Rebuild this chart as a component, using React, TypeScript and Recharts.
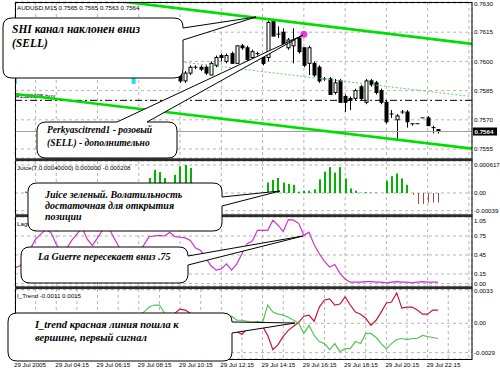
import React from 'react';
import {
  ComposedChart, Bar, Line, Scatter, XAxis, YAxis, CartesianGrid, ReferenceLine,
} from 'recharts';

const SMALL_FONT = '"Liberation Sans", Arial, sans-serif';
const NOTE_FONT = '"Liberation Serif", "Times New Roman", serif';

// x = index of the M15 bar, 0 = first date label on the time axis
const timeLabels = [
  '29 Jul 2005', '29 Jul 04:15', '29 Jul 06:15', '29 Jul 08:15', '29 Jul 10:15', '29 Jul 12:15',
  '29 Jul 14:15', '29 Jul 16:15', '29 Jul 18:15', '29 Jul 20:15', '29 Jul 22:15',
];
const gridTicks = Array.from({ length: 23 }, (_, k) => k * 4);
const X_DOMAIN: [number, number] = [0, 88.6];

// AUDUSD M15 candles, first one at index 32
const candleStart = 32;
const opens = [
  0.7596, 0.7590, 0.7594, 0.7597, 0.7597, 0.7597, 0.7593, 0.7598, 0.7603, 0.7600,
  0.7604, 0.7599, 0.7608, 0.7607, 0.7602, 0.7604, 0.7602, 0.7602, 0.7621, 0.7614,
  0.7615, 0.7607, 0.7608, 0.7612, 0.7607, 0.7599, 0.7599, 0.7597, 0.7591, 0.7591,
  0.7584, 0.7590, 0.7582, 0.7581, 0.7581, 0.7587, 0.7579, 0.7590, 0.7589, 0.7585,
  0.7579, 0.7573, 0.7570, 0.7574, 0.7574, 0.7568, 0.7568, 0.7571, 0.7571, 0.7566,
  0.7565,
];
const highs = [
  0.7597, 0.7595, 0.7598, 0.7598, 0.7598, 0.7598, 0.7600, 0.7603, 0.7604, 0.7604,
  0.7605, 0.7608, 0.7609, 0.7608, 0.7606, 0.7605, 0.7603, 0.7621, 0.7622, 0.7618,
  0.7617, 0.7612, 0.7617, 0.7613, 0.7607, 0.7608, 0.7600, 0.7598, 0.7592, 0.7592,
  0.7591, 0.7591, 0.7583, 0.7582, 0.7586, 0.7588, 0.7591, 0.7591, 0.7590, 0.7586,
  0.7580, 0.7575, 0.7573, 0.7575, 0.7575, 0.7568, 0.7568, 0.7571, 0.7572, 0.7567,
  0.7565,
];
const lows = [
  0.7589, 0.7589, 0.7593, 0.7596, 0.7595, 0.7593, 0.7593, 0.7597, 0.7600, 0.7599,
  0.7599, 0.7599, 0.7606, 0.7599, 0.7601, 0.7603, 0.7598, 0.7600, 0.7613, 0.7612,
  0.7608, 0.7606, 0.7599, 0.7604, 0.7597, 0.7593, 0.7592, 0.7589, 0.7590, 0.7583,
  0.7583, 0.7579, 0.7574, 0.7575, 0.7580, 0.7580, 0.7578, 0.7587, 0.7583, 0.7578,
  0.7568, 0.7571, 0.7560, 0.7573, 0.7566, 0.7567, 0.7568, 0.7571, 0.7567, 0.7563,
  0.7563,
];
const closes = [
  0.7590, 0.7594, 0.7597, 0.7597, 0.7596, 0.7594, 0.7599, 0.7602, 0.7602, 0.7603,
  0.7599, 0.7608, 0.7607, 0.7601, 0.7605, 0.7604, 0.7599, 0.7620, 0.7613, 0.7614,
  0.7609, 0.7611, 0.7611, 0.7605, 0.7598, 0.7607, 0.7593, 0.7590, 0.7591, 0.7583,
  0.7589, 0.7579, 0.7579, 0.7580, 0.7585, 0.7581, 0.7590, 0.7588, 0.7584, 0.7579,
  0.7569, 0.7573, 0.7572, 0.7574, 0.7569, 0.7568, 0.7568, 0.7571, 0.7567, 0.7566,
  0.7564,
];

// SHI channel end points
const channelUpper = [{ i: 21, v: 0.76307 }, { i: 89, v: 0.76089 }];
const channelLower = [{ i: 0, v: 0.75833 }, { i: 89, v: 0.75551 }];
const channelMid = [{ i: 33, v: 0.75995 }, { i: 89, v: 0.75818 }];
const perkyDots = [{ i: 56, v: 0.7614 }];
const cyanMarks = [{ i: 0, v: 0.7590 }, { i: 23, v: 0.7590 }];
const bidPrice = 0.7564;
const orderPrice = 0.7580;
const priceTicks = [0.7555, 0.7570, 0.7585, 0.7600, 0.7615, 0.7630];

// Juice histogram, from index 0
const juice = [
  0, 0, 0.00003, 0, 0, 0, 0, 0, 0, 0,
  0, 0, 0, 0, 0, 0, 0, 0, 0, 0,
  0, 0, 0, 0, 0, 0, 0.00033, 0.00051, 0.00046, 0.00033,
  0.0001, 0.0004, 0.00059, 0.000617, 0.00055, 0.0002, 0, 0, 0, 0,
  0, 0, 0, 0, 0, 0, 0, 0, 0, 0.00023,
  0.00029, 0.00033, 0.00023, 0.0002, 0.00018, 0.00003, 0.00005, 0.00005, 0.00008, 0.0003,
  0.00047, 0.00057, 0.00045, 0.00057, 0.00032, 0.0001, 0.00005, 0.00001, 0.00002, 0.00001,
  0.00001, 0, 0.00027, 0.00037, 0.00043, 0.00032, 0.00018, -0.00004, -0.00024, -0.00024,
  -0.00021, -0.00021, -0.00021,
];
const juiceTicks = [-0.00039, 0, 0.000617];

// Laguerre, from index 0
const laguerre = [
  0.245, 0.28, 0.40, 0.55, 0.70, 0.78, 0.85, 0.80, 0.62, 0.50,
  0.55, 0.68, 0.78, 0.88, 0.70, 0.60, 0.72, 0.85, 0.90, 0.75,
  0.60, 0.45, 0.50, 0.42, 0.50, 0.61, 0.74, 0.75, 0.76, 0.75,
  0.81, 0.74, 0.73, 0.72, 0.68, 0.56, 0.52, 0.40, 0.28, 0.21,
  0.23, 0.31, 0.21, 0.31, 0.47, 0.63, 0.67, 0.84, 0.84, 0.84,
  1.00, 0.92, 0.82, 1.01, 1.00, 0.95, 0.76, 0.81, 0.61, 0.47,
  0.35, 0.26, 0.30, 0.16, 0.07, 0.02, 0.02, 0.02, 0.03, 0.03,
  0.02, 0.02, 0.01, 0.02, 0.03, 0.02, 0.02, 0.01, 0.02, 0.03,
  0.02, 0.02, 0.02,
];
const lagTicks = [0, 0.15, 0.45, 0.75, 1.05];

// I_Trend, from index 24
const trendStart = 24;
const trendRed = [
  -0.0008, -0.0011, -0.0016, -0.0018, -0.0018, -0.0010, -0.0002, 0.0010, 0.0014, 0.0013,
  0.0010, 0.0004, -0.0002, -0.0006, -0.0008, -0.0005, -0.0003, -0.0006, -0.0007, -0.0008,
  -0.0011, -0.0005, -0.0003, -0.0002, -0.0003, -0.0012, -0.0026, -0.0021, -0.0013, -0.0007,
  -0.0003, 0.0001, 0.0007, 0.0008, 0.0002, 0.0016, 0.0023, 0.0024, 0.0018, 0.0019,
  0.0026, 0.0018, 0.0011, 0.0009, 0.0005, -0.0002, 0.0003, 0.0011, 0.0020, 0.0021,
  0.0030, 0.0015, 0.0016, 0.0016, 0.0013, 0.0009, 0.0009, 0.0013, 0.0013,
];
const trendGreen = [
  0.0008, 0.0011, 0.0016, 0.0018, 0.0018, 0.0010, 0.0002, -0.0010, -0.0014, -0.0013,
  -0.0010, -0.0004, 0.0002, 0.0006, 0.0008, 0.0005, 0.0003, 0.0006, 0.0007, 0.0003,
  0.0003, 0.0002, 0.0001, 0.0002, 0.0001, 0.0018, 0.0011, 0.0009, 0.0008, 0.0006,
  0.0003, 0.0000, -0.0010, -0.0002, -0.0012, -0.0018, -0.0020, -0.0026, -0.0020, -0.0028,
  -0.0025, -0.0025, -0.0018, -0.0020, -0.0010, -0.0010, -0.0014, -0.0020, -0.0025, -0.0020,
  -0.0016, -0.0015, -0.0016, -0.0015, -0.0015, -0.0012, -0.0013, -0.0014, -0.0015,
];
const trendTicks = [-0.0029, 0, 0.0033];

// one row per bar index
const rows: any[] = Array.from({ length: 90 }, (_, i) => {
  const r: any = { i };
  const c = i - candleStart;
  if (c >= 0 && c < opens.length) {
    r.open = opens[c]; r.high = highs[c]; r.low = lows[c]; r.close = closes[c];
  }
  if (i < juice.length) r.juice = juice[i];
  if (i < laguerre.length) r.lag = laguerre[i];
  const t = i - trendStart;
  if (t >= 0 && t < trendRed.length) { r.red = trendRed[t]; r.green = trendGreen[t]; }
  return r;
});
channelUpper.forEach((p) => { rows[p.i].upper = p.v; });
channelLower.forEach((p) => { rows[p.i].lower = p.v; });
channelMid.forEach((p) => { rows[p.i].mid = p.v; });

const candleRange = (d: any) => (d.high != null ? [d.low, d.high] : undefined);

const Candle = (props: any) => {
  const { x, y, width, height, payload } = props;
  if (!payload || payload.high == null || !isFinite(y) || !isFinite(x)) return null;
  const top = Math.min(y, y + (height || 0));
  const h = Math.abs(height || 0);
  const span = payload.high - payload.low;
  const at = (v: number) => (span > 0 ? top + ((payload.high - v) / span) * h : top);
  const cx = Math.round(x + width / 2) + 0.5;
  const yo = at(payload.open);
  const yc = at(payload.close);
  const bodyTop = Math.min(yo, yc);
  const bodyH = Math.abs(yc - yo);
  const up = payload.close >= payload.open;
  return (
    <g>
      <line x1={cx} x2={cx} y1={top} y2={top + h} stroke="#000" strokeWidth={1} />
      {bodyH < 0.8 ? (
        <line x1={cx - 2} x2={cx + 2} y1={bodyTop} y2={bodyTop} stroke="#000" strokeWidth={1} />
      ) : (
        <rect x={cx - 1.5} y={bodyTop} width={3} height={bodyH} fill={up ? '#fff' : '#000'} stroke="#000" strokeWidth={1} />
      )}
    </g>
  );
};

// green histogram bars 2px, negative ones as thin brown lines
const JuiceBar = (props: any) => {
  const { x, y, width, height, payload } = props;
  if (!payload || !payload.juice || !isFinite(y)) return null;
  const top = Math.min(y, y + height);
  const h = Math.abs(height);
  const cx = Math.round(x + width / 2);
  if (payload.juice < 0) return <rect x={cx} y={top} width={1} height={h} fill="#9b4a4a" />;
  return <rect x={cx - 1} y={top} width={2} height={h} fill="#00b400" />;
};

const MagentaDot = (p: any) => <circle cx={p.cx} cy={p.cy} r={3.5} fill="#e23ce2" />;
const CyanMark = (p: any) => <rect x={p.cx - 2} y={p.cy - 3} width={4} height={6} fill="#22e0e0" />;

const smallText = { fontSize: 6.2, fontFamily: SMALL_FONT, fill: '#000' };

const axisTick = (fmt: (v: number) => string, shift: Record<string, number> = {}) => (p: any) => (
  <text x={p.x} y={p.y + (shift[String(p.payload.value)] || 0)} dy={2.2} textAnchor="start" {...smallText}>
    {fmt(p.payload.value)}
  </text>
);

const timeTick = (p: any) => {
  const v = p.payload.value;
  const label = v % 8 === 0 ? timeLabels[v / 8] : '';
  if (!label) return <g />;
  return (
    <text x={p.x - 1} y={p.y} dy={8} textAnchor="start" {...smallText}>{label}</text>
  );
};

const BidTag = (p: any) => {
  const vb = p.viewBox;
  if (!vb) return null;
  const x = vb.x + vb.width + 1;
  return (
    <g>
      <rect x={x} y={vb.y - 4} width={24} height={8} fill="#000" />
      <text x={x + 1.5} y={vb.y + 2.3} {...smallText} fill="#fff" fontWeight="bold">{bidPrice.toFixed(4)}</text>
    </g>
  );
};

const OrderLabel = (p: any) => {
  const vb = p.viewBox;
  if (!vb) return null;
  return <text x={vb.x + 1} y={vb.y - 2} {...smallText}>#1320195 buy</text>;
};

const grid = <CartesianGrid stroke="#b4b4b4" strokeDasharray="3 3" />;
const xAxisHidden = (
  <XAxis dataKey="i" type="number" domain={X_DOMAIN} ticks={gridTicks} allowDataOverflow hide />
);

// speech bubble with a tail on the top or right side
function bubblePath(x: number, y: number, w: number, h: number, r: number, t: any) {
  const R = x + w;
  const B = y + h;
  let d = `M${x + r},${y}`;
  if (t.side === 'top') d += ` H${t.a} L${t.tx},${t.ty} L${t.b},${y}`;
  d += ` H${R - r} Q${R},${y} ${R},${y + r}`;
  if (t.side === 'right') d += ` V${t.a} L${t.tx},${t.ty} L${R},${t.b}`;
  d += ` V${B - r} Q${R},${B} ${R - r},${B} H${x + r} Q${x},${B} ${x},${B - r} V${y + r} Q${x},${y} ${x + r},${y} Z`;
  return d;
}

const notes = [
  { x: 3, y: 18, w: 180, h: 60, tail: { side: 'right', a: 28, b: 40, tx: 256, ty: 17 }, size: 11.5, lh: 14, tx: 12, ty: 33,
    lines: ['SHI канал наклонен вниз', '(SELL)'] },
  { x: 37, y: 122, w: 140, h: 36, tail: { side: 'top', a: 117, b: 147, tx: 303, ty: 35 }, size: 9.5, lh: 13, tx: 47, ty: 133,
    lines: ['Perkyascitrend1 - розовый', '(SELL) - дополнительно'] },
  { x: 28, y: 183, w: 194, h: 48, tail: { side: 'right', a: 197, b: 206, tx: 280, ty: 191 }, size: 10, lh: 11, tx: 45, ty: 198,
    lines: ['Juice зеленый. Волатильность', 'достаточная для открытия', 'позиции'] },
  { x: 21, y: 247, w: 167, h: 36, tail: { side: 'right', a: 256, b: 265, tx: 303, ty: 236 }, size: 10, lh: 12, tx: 38, ty: 260,
    lines: ['La Guerre пересекает вниз .75'] },
  { x: 8, y: 313, w: 224, h: 48, tail: { side: 'right', a: 322, b: 333, tx: 295, ty: 323 }, size: 10.5, lh: 12.5, tx: 35, ty: 328,
    lines: ['I_trend красная линия пошла к', 'вершине, первый сигнал'] },
];

const Overlay = () => (
  <svg width={500} height={374} style={{ position: 'absolute', left: 0, top: 0, pointerEvents: 'none' }}>
    <rect x={15.5} y={2.5} width={456.5} height={357} fill="none" stroke="#000" />
    <rect x={15} y={158.3} width={457.5} height={2.8} fill="#2b2b2b" />
    <rect x={15} y={214.3} width={457.5} height={2.8} fill="#2b2b2b" />
    <rect x={15} y={286.3} width={457.5} height={2.8} fill="#2b2b2b" />
    <text x={17} y={10} {...smallText}>AUDUSD,M15  0.7565 0.7565 0.7563 0.7564</text>
    <text x={17} y={169.5} {...smallText}>Juice(7,0.00040000) 0.000000 -0.000208</text>
    <text x={17} y={226} {...smallText}>Laguerre</text>
    <text x={17} y={297.5} {...smallText}>I_Trend -0.0011 0.0015</text>
    {notes.map((n, k) => (
      <g key={k}>
        <path d={bubblePath(n.x, n.y, n.w, n.h, 9, n.tail)} fill="#fff" stroke="#000" strokeWidth={1} />
        {n.lines.map((s, j) => (
          <text key={j} x={n.tx} y={n.ty + j * n.lh} fontSize={n.size} fontFamily={NOTE_FONT}
            fontWeight="bold" fontStyle="italic" fill="#000">{s}</text>
        ))}
      </g>
    ))}
  </svg>
);

export default function App() {
  return (
    <div style={{ position: 'absolute', left: 0, top: 0, width: 500, height: 374, background: '#fff', overflow: 'hidden' }}>
      {/* price window */}
      <div style={{ position: 'absolute', left: 0, top: 0 }}>
        <ComposedChart width={500} height={162} data={rows} margin={{ top: 2, right: 0, bottom: 4, left: 15 }}>
          {grid}
          {xAxisHidden}
          <YAxis orientation="right" width={28} type="number" domain={[0.75504, 0.76305]} allowDataOverflow
            ticks={priceTicks} interval={0} tickLine={false} axisLine={false} tickSize={0} tickMargin={2}
            tick={axisTick((v) => v.toFixed(4), { '0.763': 1 })} />
          <ReferenceLine y={orderPrice} stroke="#000" strokeDasharray="7 3 2 3" label={(p: any) => <OrderLabel {...p} />} />
          <ReferenceLine y={bidPrice} stroke="#a0a0a0" label={(p: any) => <BidTag {...p} />} />
          <Line dataKey="upper" stroke="#00dd00" strokeWidth={2.6} dot={false} connectNulls isAnimationActive={false} />
          <Line dataKey="lower" stroke="#00dd00" strokeWidth={2.6} dot={false} connectNulls isAnimationActive={false} />
          <Line dataKey="mid" stroke="#66cc66" strokeWidth={1} strokeDasharray="2 2" dot={false} connectNulls isAnimationActive={false} />
          <Bar dataKey={candleRange} barSize={3} shape={Candle} isAnimationActive={false} />
          <Scatter data={cyanMarks} dataKey="v" shape={CyanMark} isAnimationActive={false} />
          <Scatter data={perkyDots} dataKey="v" shape={MagentaDot} isAnimationActive={false} />
        </ComposedChart>
      </div>

      {/* Juice */}
      <div style={{ position: 'absolute', left: 0, top: 155 }}>
        <ComposedChart width={500} height={66} data={rows} margin={{ top: 6, right: 0, bottom: 7, left: 15 }}>
          {grid}
          {xAxisHidden}
          <YAxis orientation="right" width={28} type="number" domain={[-0.000463, 0.000705]} allowDataOverflow
            ticks={juiceTicks} interval={0} tickLine={false} axisLine={false} tickSize={0} tickMargin={2}
            tick={axisTick((v) => (v === 0 ? '0.00' : String(v)))} />
          <Bar dataKey="juice" barSize={2} shape={JuiceBar} isAnimationActive={false} />
        </ComposedChart>
      </div>

      {/* Laguerre */}
      <div style={{ position: 'absolute', left: 0, top: 211 }}>
        <ComposedChart width={500} height={81} data={rows} margin={{ top: 6, right: 0, bottom: 6, left: 15 }}>
          {grid}
          {xAxisHidden}
          <YAxis orientation="right" width={28} type="number" domain={[-0.04, 1.05]} allowDataOverflow
            ticks={lagTicks} interval={0} tickLine={false} axisLine={false} tickSize={0} tickMargin={2}
            tick={axisTick((v) => v.toFixed(2), { '1.05': 4 })} />
          <Line dataKey="lag" stroke="#cc33cc" strokeWidth={1.2} dot={false} isAnimationActive={false} />
        </ComposedChart>
      </div>

      {/* I_Trend + time axis */}
      <div style={{ position: 'absolute', left: 0, top: 283 }}>
        <ComposedChart width={500} height={91} data={rows} margin={{ top: 6, right: 0, bottom: 0, left: 15 }}>
          {grid}
          <XAxis dataKey="i" type="number" domain={X_DOMAIN} ticks={gridTicks} allowDataOverflow interval={0}
            height={15} tickLine={false} axisLine={false} tickSize={0} tickMargin={0} tick={timeTick} />
          <YAxis orientation="right" width={28} type="number" domain={[-0.00352, 0.00338]} allowDataOverflow
            ticks={trendTicks} interval={0} tickLine={false} axisLine={false} tickSize={0} tickMargin={2}
            tick={axisTick((v) => (v === 0 ? '0.00' : v.toFixed(4)), { '0.0033': 1 })} />
          <Line dataKey="red" stroke="#c8143c" strokeWidth={1.2} dot={false} isAnimationActive={false} />
          <Line dataKey="green" stroke="#55c455" strokeWidth={1.2} dot={false} isAnimationActive={false} />
        </ComposedChart>
      </div>

      <Overlay />
    </div>
  );
}
